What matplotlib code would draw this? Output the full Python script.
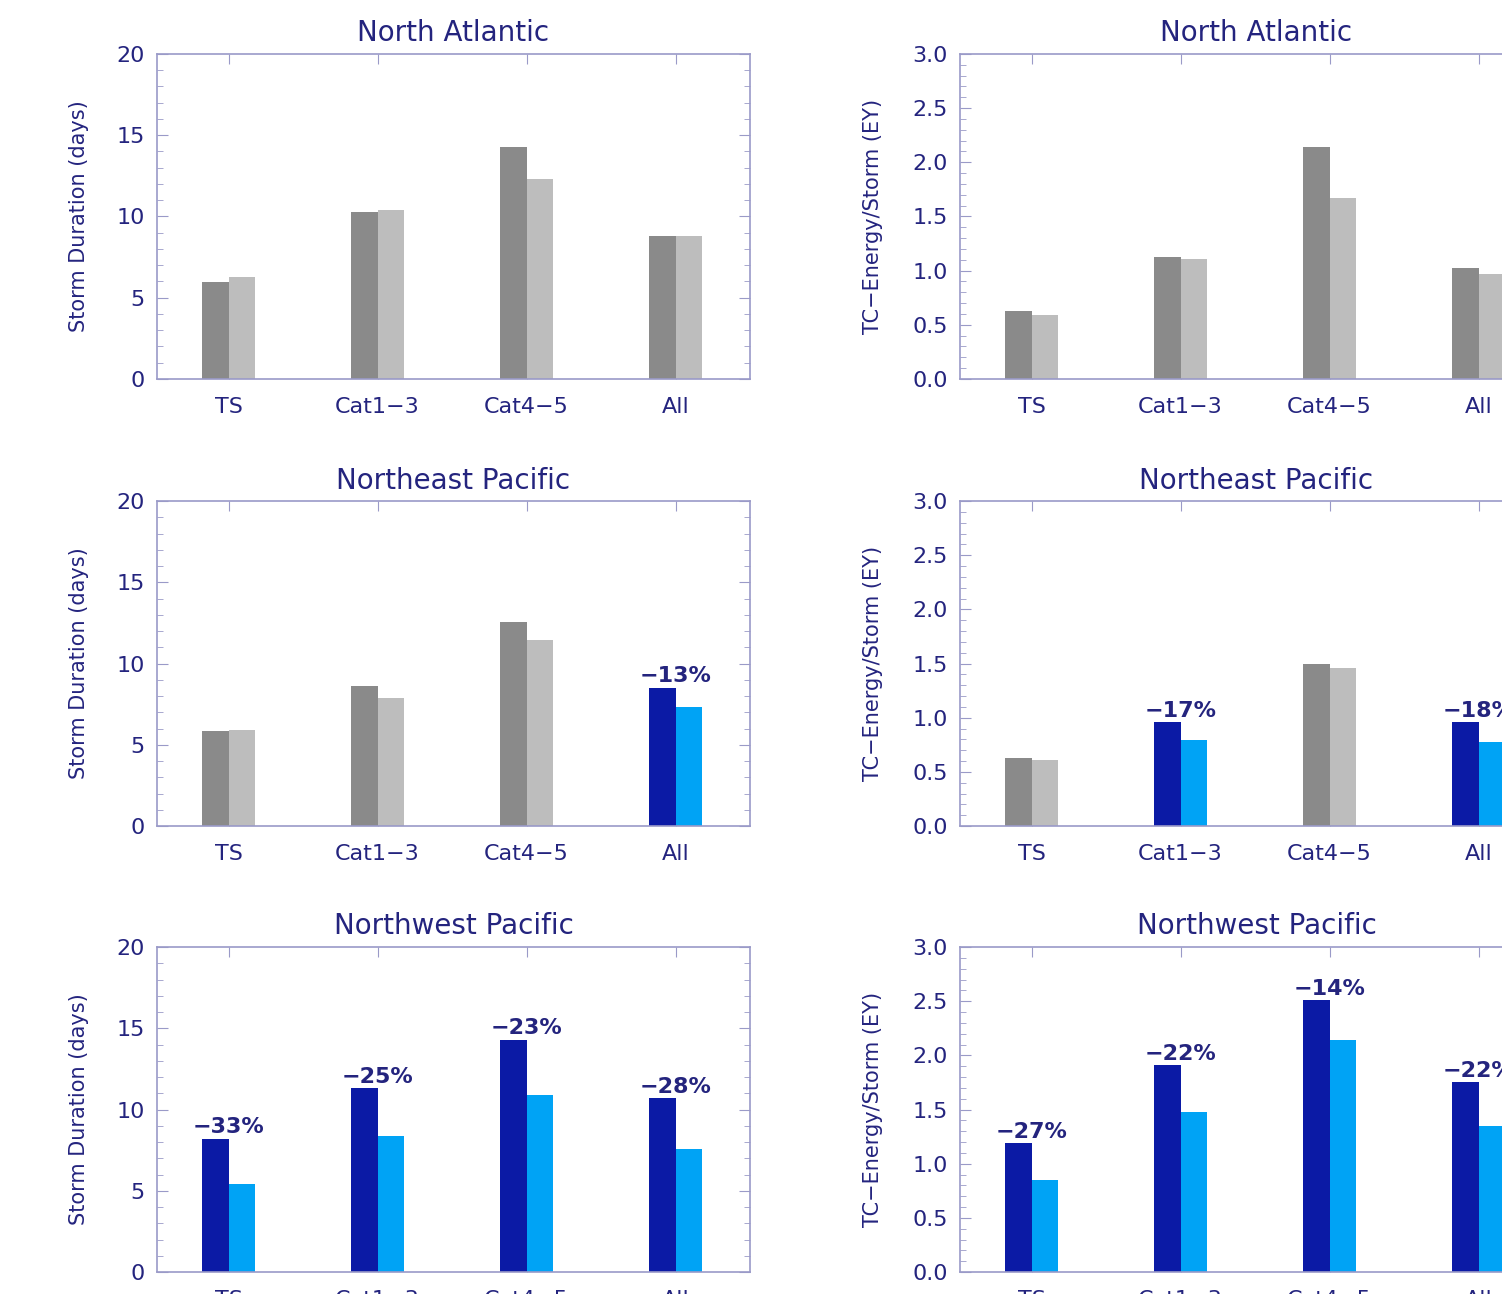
import matplotlib
matplotlib.use("Agg")
import matplotlib.pyplot as plt
from matplotlib.ticker import MultipleLocator, FormatStrFormatter
import numpy as np

plt.rcParams['font.family'] = ['DejaVu Sans']

categories = ["TS", "Cat1\u22123", "Cat4\u22125", "All"]
regions = ["North Atlantic", "Northeast Pacific", "Northwest Pacific"]

# storm duration (days): present / future
dur_now = [[5.95, 10.3, 14.3, 8.8],
           [5.85, 8.6, 12.55, 8.5],
           [8.2, 11.3, 14.3, 10.7]]
dur_fut = [[6.25, 10.4, 12.3, 8.8],
           [5.9, 7.9, 11.45, 7.3],
           [5.4, 8.4, 10.9, 7.6]]
dur_sig = [[False, False, False, False],
           [False, False, False, True],
           [True, True, True, True]]
dur_pct = [["", "", "", ""],
           ["", "", "", "\u221213%"],
           ["\u221233%", "\u221225%", "\u221223%", "\u221228%"]]

# TC energy per storm (EY): present / future
eng_now = [[0.63, 1.13, 2.14, 1.02],
           [0.63, 0.96, 1.50, 0.96],
           [1.19, 1.91, 2.51, 1.75]]
eng_fut = [[0.59, 1.11, 1.67, 0.97],
           [0.61, 0.79, 1.46, 0.78],
           [0.85, 1.48, 2.14, 1.35]]
eng_sig = [[False, False, False, False],
           [False, True, False, True],
           [True, True, True, True]]
eng_pct = [["", "", "", ""],
           ["", "\u221217%", "", "\u221218%"],
           ["\u221227%", "\u221222%", "\u221214%", "\u221222%"]]

navy = "#24247e"
spine = "#9a9ac8"
gray_dark, gray_light = "#8a8a8a", "#bdbdbd"
blue_dark, blue_light = "#0b1aa5", "#00a3f5"

fig = plt.figure(figsize=(15.02, 12.94), dpi=100)
W, H = 1502.0, 1294.0
col_x = [157, 960]
row_top = [54, 501, 947]
ax_w, ax_h = 593, 325


def draw_panel(ax, now, fut, sig, pct, ymax, major, minor, ylabel, title, label_x):
    x = np.arange(len(categories))
    w = 0.18
    c1 = [blue_dark if s else gray_dark for s in sig]
    c2 = [blue_light if s else gray_light for s in sig]
    ax.bar(x - w / 2, now, w, color=c1, zorder=2)
    ax.bar(x + w / 2, fut, w, color=c2, zorder=2)
    for xi, v, p in zip(x, now, pct):
        if p:
            ax.annotate(p, (xi, v), xytext=(0, 1), textcoords='offset points',
                        ha='center', va='bottom', fontsize=16, fontweight='bold', color=navy)
    ax.set_xlim(-0.48, 3.5)
    ax.set_ylim(0, ymax)
    ax.set_xticks(x)
    ax.set_xticklabels(categories)
    ax.yaxis.set_major_locator(MultipleLocator(major))
    ax.yaxis.set_minor_locator(MultipleLocator(minor))
    ax.tick_params(axis='x', which='both', direction='in', top=True, length=7,
                   pad=13, labelsize=16, colors=spine, labelcolor=navy)
    ax.tick_params(axis='y', which='major', direction='in', right=True, length=8,
                   pad=9, labelsize=16, colors=spine, labelcolor=navy)
    ax.tick_params(axis='y', which='minor', direction='in', right=True, length=4,
                   colors=spine)
    for s in ax.spines.values():
        s.set_color(spine)
        s.set_linewidth(1.2)
    ax.set_ylabel(ylabel, fontsize=15, color=navy)
    ax.yaxis.set_label_coords(label_x, 0.5)
    ax.set_title(title, fontsize=20, color=navy, pad=9)


for r in range(3):
    bottom = 1 - (row_top[r] + ax_h) / H
    ax_l = fig.add_axes([col_x[0] / W, bottom, ax_w / W, ax_h / H])
    draw_panel(ax_l, dur_now[r], dur_fut[r], dur_sig[r], dur_pct[r], 20, 5, 1,
               "Storm Duration (days)", regions[r], -0.115)
    ax_r = fig.add_axes([col_x[1] / W, bottom, ax_w / W, ax_h / H])
    draw_panel(ax_r, eng_now[r], eng_fut[r], eng_sig[r], eng_pct[r], 3.0, 0.5, 0.1,
               "TC\u2212Energy/Storm (EY)", regions[r], -0.13)
    ax_r.yaxis.set_major_formatter(FormatStrFormatter('%.1f'))

fig.savefig("out.png", dpi=100)
